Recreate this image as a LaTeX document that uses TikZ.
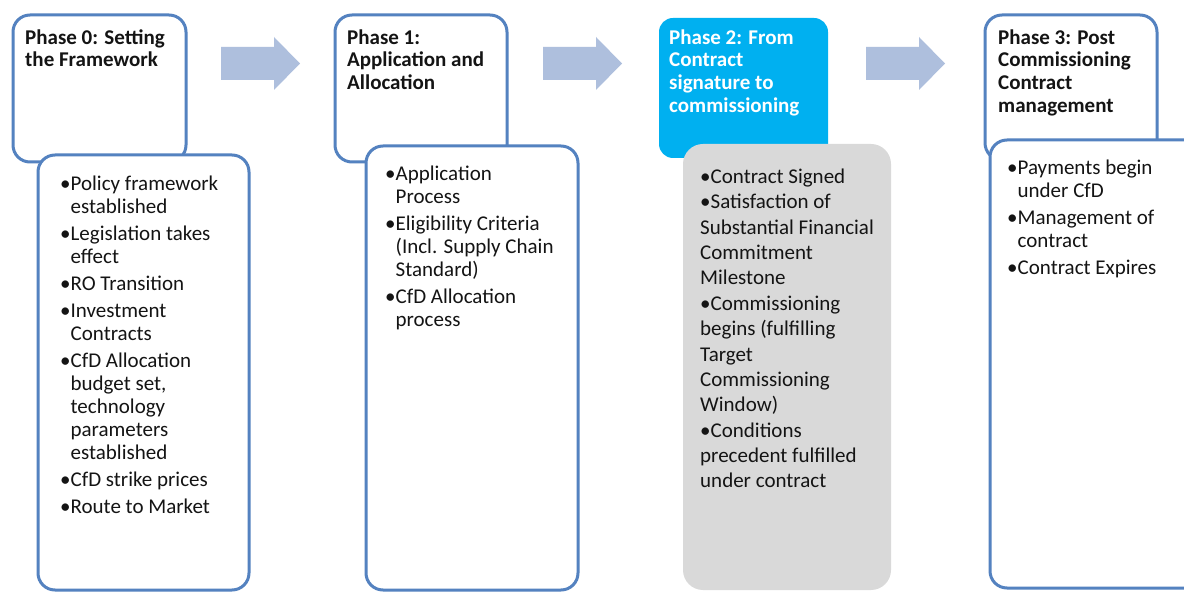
\documentclass[tikz,border=0pt]{standalone}
\usepackage{fontspec}
\setmainfont{Carlito}
\definecolor{edge}{HTML}{5482C0}
\definecolor{arrowfill}{HTML}{AEBFDD}
\definecolor{cyanbox}{HTML}{00B0F0}
\definecolor{greybox}{HTML}{D9D9D9}
\definecolor{ink}{HTML}{141414}
\newcommand{\topstrut}{\rule{0pt}{16pt}}
\begin{document}
\begin{tikzpicture}[x=1pt,y=-1pt,
  frame/.style={draw=edge,line width=3pt,fill=white,rounded corners=17pt,anchor=north west,inner sep=0pt,outer sep=0pt},
  solidbox/.style={rounded corners=14pt,anchor=north west,inner sep=0pt,outer sep=0pt},
  title/.style={font=\fontsize{21}{22.7}\selectfont\bfseries,align=left,anchor=north west,inner sep=0pt,text=ink},
  body/.style={font=\fontsize{21}{23}\selectfont,align=left,anchor=north west,inner sep=0pt,text=ink},
  blockarrow/.style={fill=arrowfill,draw=none}]
\clip (0,0) rectangle (1184,593);
\fill[white] (0,0) rectangle (1184,593);
% block arrows
\foreach \s/\n in {221/a1,543/a2,866/a3}{
  \fill[blockarrow] (\s,47) -- ++(53,0) -- ++(0,-10) -- ++(26,26.5) -- ++(-26,26.5) -- ++(0,-10) -- ++(-53,0) -- cycle;
}
% Phase 0
\node[frame,minimum width=173pt,minimum height=147pt] (top0) at (13,15) {};
\node[frame,minimum width=211pt,minimum height=435pt] (bot0) at (38,155) {};
\node[title] (tt0) at (25,28) {\topstrut Phase 0: Setting\\the Framework};
\node[body] (bt0) at (60,174) {\topstrut•Policy framework\\\phantom{•}established\\[4pt]
•Legislation takes\\\phantom{•}effect\\[4pt]
•RO Transition\\[4pt]
•Investment\\\phantom{•}Contracts\\[4pt]
•CfD Allocation\\\phantom{•}budget set,\\\phantom{•}technology\\\phantom{•}parameters\\\phantom{•}established\\[4pt]
•CfD strike prices\\[4pt]
•Route to Market};
% Phase 1
\node[frame,minimum width=172pt,minimum height=147pt] (top1) at (335,15) {};
\node[frame,minimum width=212pt,minimum height=444pt] (bot1) at (366,146) {};
\node[title] (tt1) at (347,28) {\topstrut Phase 1:\\Application and\\Allocation};
\node[body] (bt1) at (385,164) {\topstrut•Application\\\phantom{•}Process\\[4pt]
•Eligibility Criteria\\\phantom{•}(Incl. Supply Chain\\\phantom{•}Standard)\\[4pt]
•CfD Allocation\\\phantom{•}process};
% Phase 2
\node[solidbox,fill=cyanbox,minimum width=169pt,minimum height=140pt] (top2) at (659,18) {};
\node[solidbox,fill=greybox,rounded corners=20pt,minimum width=208pt,minimum height=446pt] (bot2) at (683,144) {};
\node[title,text=white] (tt2) at (669,28) {\topstrut Phase 2: From\\Contract\\signature to\\commissioning};
\node[body,font=\fontsize{21}{25.4}\selectfont] (bt2) at (700,167) {\topstrut•Contract Signed\\
•Satisfaction of\\Substantial Financial\\Commitment\\Milestone\\
•Commissioning\\begins (fulfilling\\Target\\Commissioning\\Window)\\
•Conditions\\precedent fulfilled\\under contract};
% Phase 3
\node[frame,minimum width=172pt,minimum height=145pt] (top3) at (985,15) {};
\node[frame,minimum width=215pt,minimum height=448pt] (bot3) at (990,140) {};
\node[title] (tt3) at (998,28) {\topstrut Phase 3: Post\\Commissioning\\Contract\\management};
\node[body] (bt3) at (1007,158) {\topstrut•Payments begin\\\phantom{•}under CfD\\[4pt]
•Management of\\\phantom{•}contract\\[4pt]
•Contract Expires};
\end{tikzpicture}
\end{document}
